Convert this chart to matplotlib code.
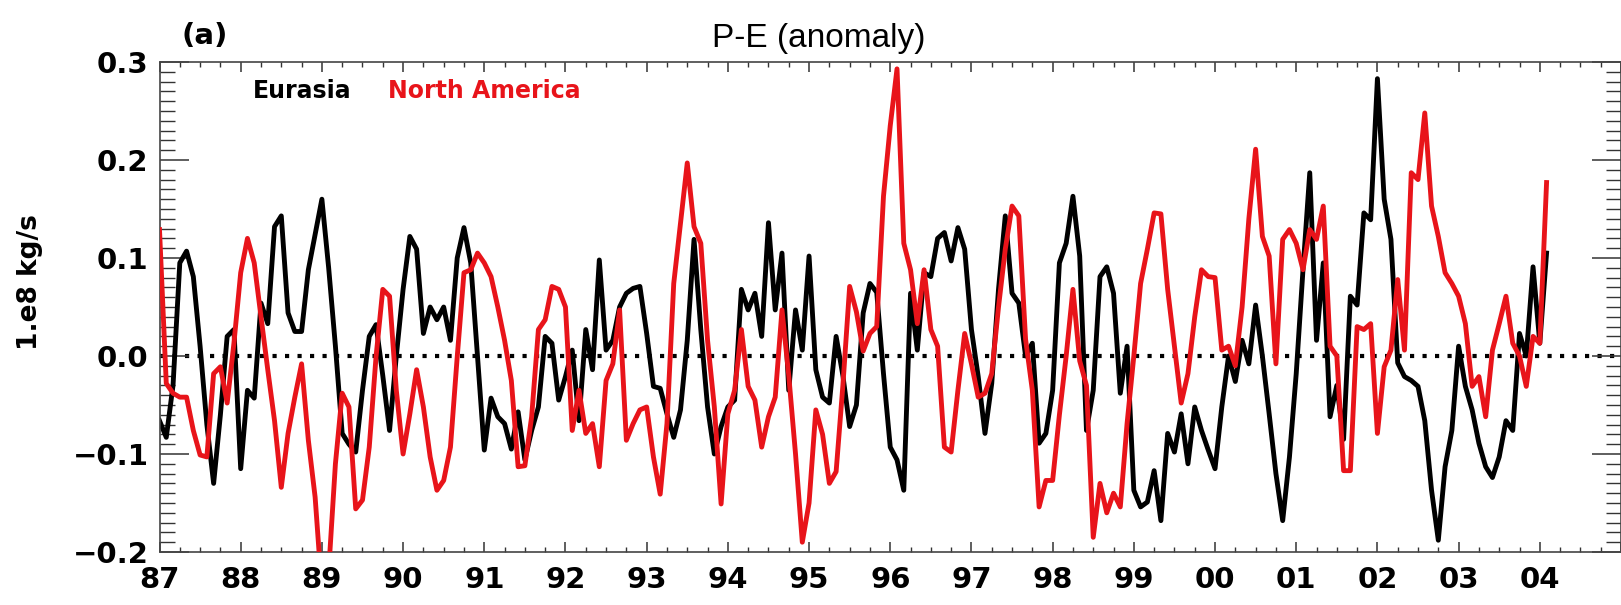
import matplotlib
matplotlib.use('Agg')
import matplotlib.pyplot as plt
from matplotlib.ticker import MultipleLocator, FixedLocator
import numpy as np

# monthly values from Jan 1987 to Feb 2004 (1.e8 kg/s)
start_year = 1987
eurasia = [-0.066, -0.083, -0.03, 0.095, 0.107, 0.081, 0.01, -0.07, -0.13, -0.06,
           0.02, 0.027, -0.115, -0.035, -0.043, 0.054, 0.033, 0.132, 0.143, 0.044,
           0.025, 0.025, 0.088, 0.124, 0.16, 0.09, 0.01, -0.079, -0.09, -0.098,
           -0.035, 0.02, 0.032, -0.02, -0.076, 0.0, 0.068, 0.122, 0.109, 0.023,
           0.05, 0.037, 0.05, 0.016, 0.10, 0.131, 0.095, 0.0, -0.096, -0.043,
           -0.062, -0.069, -0.095, -0.057, -0.106, -0.076, -0.052, 0.02, 0.013, -0.045,
           -0.021, 0.006, -0.066, 0.027, -0.014, 0.098, 0.006, 0.016, 0.05, 0.064,
           0.069, 0.071, 0.023, -0.031, -0.033, -0.059, -0.083, -0.055, 0.016, 0.119,
           0.027, -0.052, -0.10, -0.072, -0.052, -0.045, 0.068, 0.047, 0.064, 0.02,
           0.136, 0.047, 0.105, -0.035, 0.047, 0.006, 0.102, -0.014, -0.042, -0.048,
           0.02, -0.02, -0.072, -0.05, 0.044, 0.074, 0.065, -0.018, -0.093, -0.106,
           -0.137, 0.064, 0.006, 0.085, 0.081, 0.12, 0.126, 0.097, 0.131, 0.109,
           0.027, -0.021, -0.079, -0.028, 0.068, 0.143, 0.064, 0.054, 0.0, 0.013,
           -0.089, -0.079, -0.035, 0.095, 0.115, 0.163, 0.102, -0.076, -0.035, 0.081,
           0.091, 0.064, -0.038, 0.01, -0.137, -0.154, -0.149, -0.117, -0.168, -0.079,
           -0.098, -0.059, -0.11, -0.052, -0.076, -0.096, -0.115, -0.052, 0.0, -0.026,
           0.016, -0.008, 0.052, 0.0, -0.059, -0.12, -0.168, -0.103, -0.018, 0.088,
           0.187, 0.016, 0.095, -0.062, -0.03, -0.085, 0.061, 0.052, 0.146, 0.139,
           0.283, 0.16, 0.119, -0.007, -0.021, -0.025, -0.031, -0.066, -0.137, -0.188,
           -0.113, -0.076, 0.01, -0.031, -0.055, -0.089, -0.113, -0.124, -0.103, -0.066,
           -0.076, 0.023, 0.0, 0.091, 0.013, 0.105]
north_america = [0.129, -0.028, -0.038, -0.042, -0.042, -0.076, -0.101, -0.103, -0.018, -0.011,
                 -0.048, 0.013, 0.085, 0.12, 0.095, 0.04, -0.014, -0.066, -0.134, -0.079,
                 -0.042, -0.008, -0.086, -0.144, -0.24, -0.22, -0.11, -0.038, -0.052, -0.156,
                 -0.147, -0.093, -0.001, 0.068, 0.061, -0.035, -0.1, -0.059, -0.014, -0.052,
                 -0.103, -0.137, -0.127, -0.093, -0.001, 0.085, 0.088, 0.105, 0.095, 0.081,
                 0.05, 0.016, -0.025, -0.113, -0.112, -0.062, 0.027, 0.037, 0.071, 0.068,
                 0.05, -0.076, -0.035, -0.079, -0.069, -0.113, -0.025, -0.008, 0.047, -0.086,
                 -0.069, -0.055, -0.052, -0.103, -0.141, -0.069, 0.074, 0.136, 0.197, 0.132,
                 0.115, 0.016, -0.052, -0.151, -0.059, -0.035, 0.027, -0.031, -0.045, -0.093,
                 -0.062, -0.042, 0.047, -0.02, -0.1, -0.19, -0.15, -0.055, -0.08, -0.13,
                 -0.118, -0.03, 0.071, 0.045, 0.005, 0.023, 0.03, 0.163, 0.235, 0.293,
                 0.115, 0.088, 0.033, 0.088, 0.027, 0.01, -0.093, -0.098, -0.035, 0.023,
                 -0.008, -0.042, -0.038, -0.018, 0.05, 0.109, 0.153, 0.143, 0.017, -0.035,
                 -0.154, -0.127, -0.127, -0.06, 0.0, 0.068, -0.005, -0.03, -0.185, -0.13,
                 -0.16, -0.14, -0.154, -0.069, 0.0, 0.074, 0.109, 0.146, 0.145, 0.068,
                 0.01, -0.048, -0.018, 0.04, 0.088, 0.081, 0.08, 0.006, 0.01, -0.01,
                 0.05, 0.14, 0.211, 0.122, 0.102, -0.008, 0.119, 0.129, 0.115, 0.088,
                 0.129, 0.119, 0.153, 0.01, 0.0, -0.117, -0.117, 0.03, 0.027, 0.033,
                 -0.079, -0.011, 0.006, 0.078, 0.006, 0.187, 0.18, 0.248, 0.153, 0.122,
                 0.085, 0.074, 0.061, 0.033, -0.031, -0.021, -0.062, 0.006, 0.033, 0.061,
                 0.013, 0.0, -0.031, 0.02, 0.013, 0.177]
year_ticks = list(range(1987, 2006))
year_labels = ['87', '88', '89', '90', '91', '92', '93', '94', '95', '96',
               '97', '98', '99', '00', '01', '02', '03', '04', '']
y_ticks = [-0.2, -0.1, 0.0, 0.1, 0.2, 0.3]
y_labels = ['\u22120.2', '\u22120.1', '0.0', '0.1', '0.2', '0.3']

months = start_year + np.arange(len(eurasia)) / 12.0

fig = plt.figure(figsize=(16.21, 6.05), dpi=100)
ax = fig.add_axes([159.5 / 1621, 53 / 605, 1 - 159.5 / 1621, 490 / 605])

# zero line, then the two series (red drawn on top)
ax.axhline(0.0, color='black', lw=3, linestyle=(0, (1, 2)), dash_capstyle='butt', zorder=1)
ax.plot(months, eurasia, color='black', lw=3.5, zorder=2)
ax.plot(months, north_america, color='#e8141a', lw=3.5, zorder=3)

ax.set_xlim(1987, 2005)
ax.set_ylim(-0.2, 0.3)

ax.xaxis.set_major_locator(FixedLocator(year_ticks))
ax.set_xticklabels(year_labels)
ax.xaxis.set_minor_locator(MultipleLocator(0.25))
ax.yaxis.set_major_locator(FixedLocator(y_ticks))
ax.set_yticklabels(y_labels)
ax.yaxis.set_minor_locator(MultipleLocator(0.01))

ax.tick_params(axis='x', which='major', direction='in', length=7, width=1.1,
               top=True, bottom=True, pad=10, colors='#333333', labelcolor='black')
ax.tick_params(axis='x', which='minor', direction='in', length=3.5, width=1.0,
               top=True, bottom=True, colors='#333333')
ax.tick_params(axis='y', which='major', direction='in', length=21, width=1.1,
               left=True, right=True, pad=8, colors='#333333', labelcolor='black')
ax.tick_params(axis='y', which='minor', direction='in', length=10.5, width=1.0,
               left=True, right=True, colors='#333333')
for lab in ax.get_xticklabels() + ax.get_yticklabels():
    lab.set_fontsize(21)
    lab.set_fontweight('bold')

for sp in ax.spines.values():
    sp.set_linewidth(1.2)
    sp.set_color('#444444')

ax.text((253 - 159.5) / 1461.5, (552 - 91) / 490, 'Eurasia', transform=ax.transAxes,
        fontsize=17, fontweight='bold', color='black', ha='left', va='center')
ax.text((388 - 159.5) / 1461.5, (552 - 91) / 490, 'North America', transform=ax.transAxes,
        fontsize=17, fontweight='bold', color='#e8141a', ha='left', va='center')

fig.text(819 / 1621, 1 - 38 / 605, 'P-E (anomaly)', fontsize=24, family='Liberation Sans',
         ha='center', va='center')
fig.text(181 / 1621, 1 - 36 / 605, '(a)', fontsize=21, fontweight='bold',
         ha='left', va='center')
fig.text(30 / 1621, 1 - 282 / 605, '1.e8 kg/s', fontsize=19, fontweight='bold',
         rotation=90, ha='center', va='center')

fig.savefig('out.png', dpi=100)
